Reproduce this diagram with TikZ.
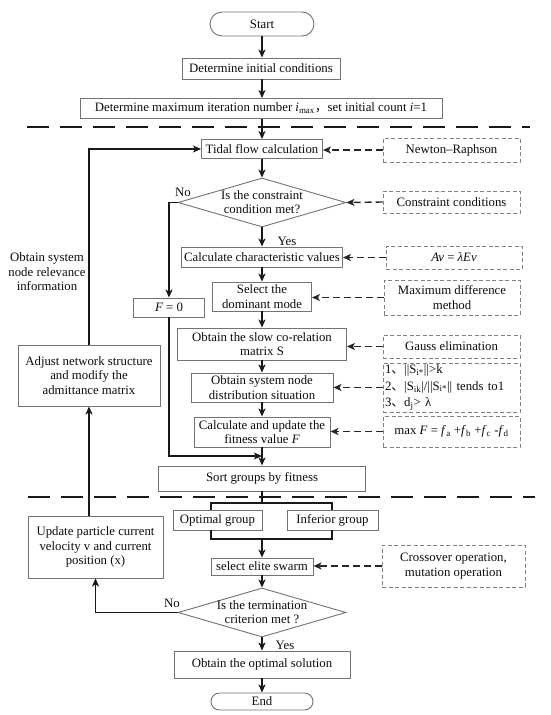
\documentclass[tikz,border=0pt]{standalone}
\usepackage{fontspec}
\setmainfont{Liberation Serif}
\newfontfamily\cjkf{Noto Sans CJK SC}
\usetikzlibrary{arrows.meta,shapes.geometric}
\begin{document}
\begin{tikzpicture}[x=1pt,y=-1pt,
  every node/.style={font=\fontsize{12.8}{14.5}\selectfont, text=black!95},
  sz/.style 2 args={minimum width=#1pt, minimum height=#2pt},
  box/.style={draw=black!55, line width=0.9pt, inner sep=0pt, align=center},
  dbox/.style={draw=black!50, line width=0.8pt, dash pattern=on 4pt off 2.5pt, inner sep=0pt, align=center},
  arr/.style={line width=1.4pt, draw=black!90, -{Stealth[length=8pt,width=7pt,inset=2pt]}},
  plain/.style={line width=1.4pt, draw=black!90},
  darr/.style={line width=1.4pt, draw=black!85, dash pattern=on 7pt off 4pt, -{Stealth[length=8pt,width=7pt,inset=2pt]}},
  sep/.style={line width=2pt, draw=black!90, dash pattern=on 22pt off 11pt},
]
\useasboundingbox[fill=white] (0,0) rectangle (550,715);

% main column
\node[box, rounded corners=12pt, sz={104}{24}] (start) at (262,24) {Start};
\node[box, sz={158}{21}] (init) at (261,68.5) {Determine initial conditions};
\node[box, sz={362}{20}] (maxit) at (261,108.5) {Determine maximum iteration number \textit{i}\textsubscript{max}{\cjkf ，}set initial count \textit{i}=1};
\node[box, sz={121}{19}] (tidal) at (262,149) {Tidal flow calculation};
\node[diamond, box, sz={168}{49}] (d1) at (262,202.5) {};
\node[align=center] (d1t) at (262,202) {Is the constraint\\condition met?};
\node[box, sz={161}{20}] (charv) at (262,257) {Calculate characteristic values};
\node[box, sz={99}{29}] (dom) at (262,296.5) {Select the\\dominant mode};
\node[box, sz={169}{32}] (slow) at (262,344) {Obtain the slow co-relation\\matrix S};
\node[box, sz={142}{29}] (distr) at (262,387.5) {Obtain system node\\distribution situation};
\node[box, sz={136}{30}] (fit) at (262,432) {Calculate and update the\\fitness value \textit{F}};
\node[box, sz={207}{25}] (sort) at (262,478.5) {Sort groups by fitness};
\node[box, sz={89}{20}] (opt) at (217.5,520) {Optimal group};
\node[box, sz={91}{20}] (inf) at (332.5,520) {Inferior group};
\node[box, sz={102}{17}] (elite) at (262,566.5) {select elite swarm};
\node[diamond, box, sz={168}{49}] (d2) at (262,612.5) {};
\node[align=center] (d2t) at (262,612) {Is the termination\\criterion met ?};
\node[box, sz={176}{27}] (sol) at (262,664.5) {Obtain the optimal solution};
\node[box, rounded corners=8.5pt, sz={102}{17}] (end) at (262,701.5) {End};

% left column
\node[box, sz={71}{19}] (f0) at (169,307.5) {\textit{F} = 0};
\node[box, sz={135}{62}] (upd) at (95.5,547) {Update particle current\\velocity v and current\\position (x)};
\node[box, sz={142}{61}] (adj) at (89,375.5) {Adjust network structure\\and modify the\\admittance matrix};
\node[align=center] (info) at (47,272) {Obtain system\\node relevance\\information};

% right column (dashed)
\node[dbox, sz={137}{24}] (newton) at (451.5,150) {Newton–Raphson};
\node[dbox, sz={137}{22}] (constr) at (451.5,202) {Constraint conditions};
\node[dbox, sz={136}{23}] (av) at (454,257.5) {\textit{Av} = \textit{λEv}};
\node[dbox, sz={136}{35}] (maxd) at (452,297.5) {Maximum difference\\method};
\node[dbox, sz={137}{23}] (gauss) at (451.5,346.5) {Gauss elimination};
\node[dbox, sz={137}{49}, text width=133pt, align=left, font=\fontsize{12.8}{16.5}\selectfont] (cond) at (451.5,387.5)
  {1{\cjkf 、}||S\textsubscript{i*}||>k\\2{\cjkf 、}|S\textsubscript{ik}|/||S\textsubscript{i*}|| tends to1\\3{\cjkf 、}d\textsubscript{j}> λ};
\node[dbox, sz={137}{31}] (maxf) at (451.5,431.5) {max \textit{F} = \textit{f}\textsubscript{a} +\textit{f}\textsubscript{b} +\textit{f}\textsubscript{c} -\textit{f}\textsubscript{d}};
\node[dbox, sz={143}{42}] (cross) at (453.5,566) {Crossover operation,\\mutation operation};

% labels
\node (no1) at (183,192) {No};
\node (yes1) at (287,241) {Yes};
\node (no2) at (172,603) {No};
\node (yes2) at (285,645) {Yes};

% separators
\draw[sep] (27,127) -- (530,127);
\draw[sep] (28,497) -- (535,497);

% main flow
\draw[arr] (start) -- (start |- init.north);
\draw[arr] (start |- init.south) -- (start |- maxit.north);
\draw[arr] (start |- maxit.south) -- (tidal);
\draw[arr] (tidal) -- (d1);
\draw[arr] (d1) -- (charv);
\draw[arr] (charv) -- (dom);
\draw[arr] (dom) -- (slow);
\draw[arr] (slow) -- (distr);
\draw[arr] (distr) -- (fit);
\draw[arr] (fit) -- (sort);

\coordinate (bt) at (262,503);
\coordinate (bl) at (211,503);
\coordinate (br) at (332,503);
\coordinate (cl) at (211,539);
\coordinate (cr) at (332,539);
\coordinate (cm) at (262,539);
\draw[plain] (sort) -- (bt);
\draw[plain] (opt.north -| bl) -- (bl) -- (br) -- (inf.north -| br);
\draw[plain] (opt.south -| cl) -- (cl) -- (cr) -- (inf.south -| cr);
\draw[arr] (cm) -- (elite);
\draw[arr] (elite) -- (d2);
\draw[arr] (d2) -- (sol);
\draw[arr] (sol) -- (end);

% no branches and loop
\coordinate (n1) at (169,202.5);
\coordinate (m1) at (169,456);
\coordinate (m2) at (262,456);
\draw[arr] (d1.west) -- (n1) -- (f0.north);
\draw[arr] (f0.south) -- (m1) -- (m2);
\draw[arr] (d2.west) -| (upd.south);
\draw[arr] (upd.north -| adj.south) -- (adj.south);
\draw[arr] (adj.north) |- (tidal.west);

% dashed inputs
\draw[darr] (newton.west) -- (newton.west -| tidal.east);
\draw[darr] (constr.west) -- (d1.east);
\draw[darr] (av.west) -- (av.west -| charv.east);
\draw[darr] (maxd.west) -- (maxd.west -| dom.east);
\draw[darr] (gauss.west) -- (gauss.west -| slow.east);
\draw[darr] (cond.west) -- (cond.west -| distr.east);
\draw[darr] (maxf.west) -- (maxf.west -| fit.east);
\draw[darr] (cross.west) -- (cross.west -| elite.east);
\end{tikzpicture}
\end{document}
